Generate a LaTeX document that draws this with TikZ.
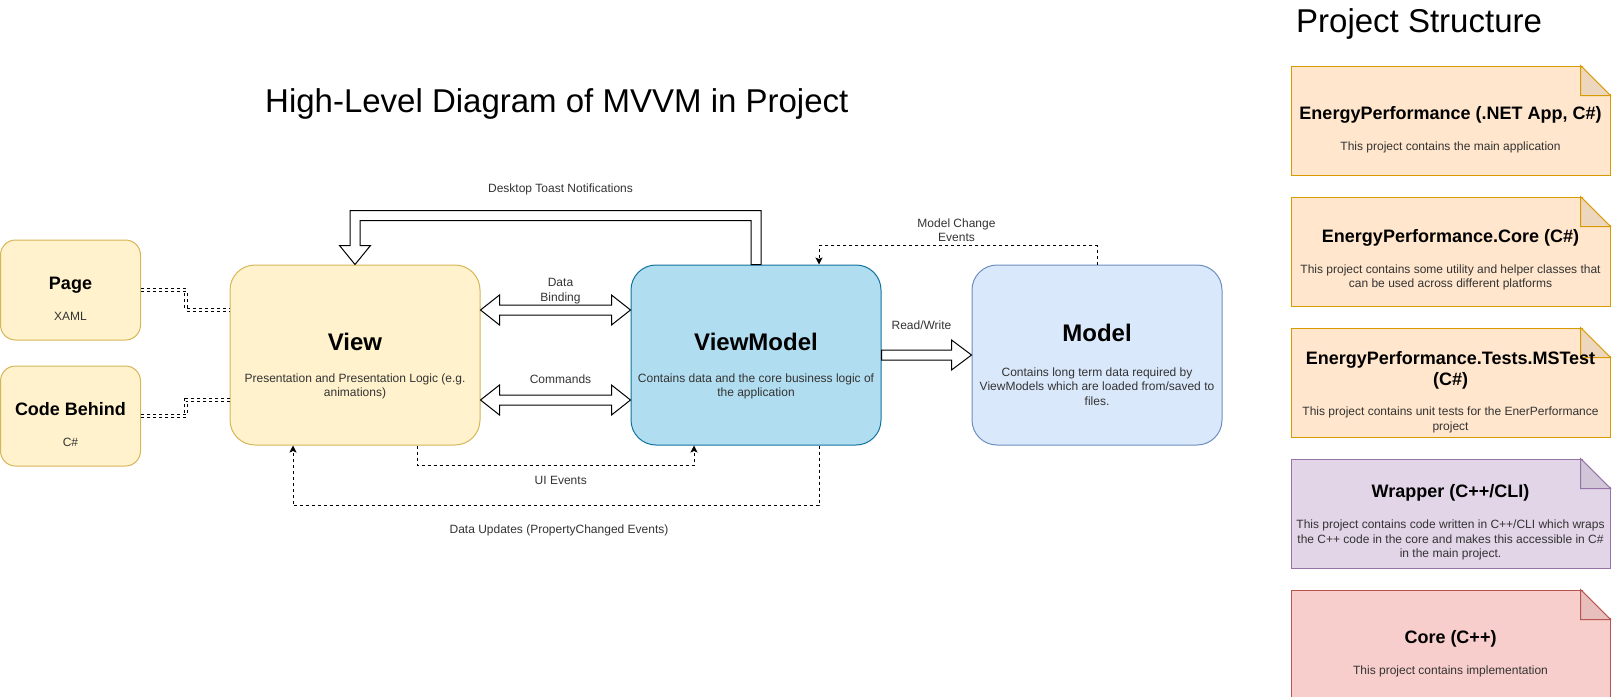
\documentclass[tikz,border=0pt]{standalone}
\usepackage{fontspec}
\setmainfont{Liberation Sans}
\usetikzlibrary{
  arrows.meta,
  positioning,
  calc
}
\definecolor{mvYellow}{HTML}{FFF2CC}
\definecolor{mvYellowLine}{HTML}{D6B656}
\definecolor{mvBlue}{HTML}{B1DDF0}
\definecolor{mvBlueLine}{HTML}{10739E}
\definecolor{mvSky}{HTML}{DAE8FC}
\definecolor{mvSkyLine}{HTML}{6C8EBF}
\definecolor{psOrange}{HTML}{FFE6CC}
\definecolor{psOrangeLine}{HTML}{D79B00}
\definecolor{psPurple}{HTML}{E1D5E7}
\definecolor{psPurpleLine}{HTML}{9673A6}
\definecolor{psRed}{HTML}{F8CECC}
\definecolor{psRedLine}{HTML}{B85450}
\definecolor{mvText}{HTML}{333333}
\tikzset{
  mvbox/.style={
    draw=#1Line, fill=#1, line width=1pt, rounded corners=25pt,
    minimum width=250pt, minimum height=180pt, inner sep=0pt
  },
  srcbox/.style={
    draw=mvYellowLine, fill=mvYellow, line width=1pt, rounded corners=15pt,
    minimum width=140pt, minimum height=100pt, inner sep=0pt
  },
  note/.style={
    draw=#1Line, fill=#1, line width=1pt, minimum width=319pt, minimum height=109pt, inner sep=0pt
  },
  bigtitle/.style={font=\fontsize{33}{40}\selectfont, inner sep=0pt},
  mvhead/.style={font=\fontsize{24}{28}\selectfont\bfseries, inner sep=0pt, text depth=0pt},
  srchead/.style={font=\fontsize{18}{21}\selectfont\bfseries, inner sep=0pt, text depth=0pt, align=center},
  bodytxt/.style={font=\fontsize{12}{14.5}\selectfont, text=mvText, inner sep=0pt, align=center},
  edgetxt/.style={bodytxt},
  hollow/.style={draw=black, fill=white, line width=1pt, line join=miter},
  evt/.style={draw=black, line width=1pt, dash pattern=on 3pt off 3pt, -{Stealth[length=7pt, width=7pt, inset=1.5pt]}},
  link/.style={draw=black, line width=0.8pt, double=white, double distance=2.5pt, dash pattern=on 3pt off 3pt}
}

\begin{document}
\begin{tikzpicture}[x=1pt, y=-1pt]
  \useasboundingbox (0,0) rectangle (1621,696);

  % titles
  \node[bigtitle, anchor=base west] (maintitle) at (265,112) {High-Level Diagram of MVVM in Project};
  \node[bigtitle, anchor=base west] (pstitle) at (1296,32) {Project Structure};

  % MVVM boxes
  \node[srcbox] (page) at (70.5,290) {};
  \node[srcbox, below=25pt of page] (code) {};
  \node[mvbox=mvYellow] (view) at (355,355) {};
  \node[mvbox=mvBlue, right=150pt of view] (vm) {};
  \node[mvbox=mvSky, right=90pt of vm] (model) {};

  \node[srchead] (pagehead) at ($(page.center)+(0,-7)$) {Page};
  \node[bodytxt] (pagetxt) at ($(page.center)+(0,26)$) {XAML};
  \node[srchead] (codehead) at ($(code.center)+(0,-7)$) {Code Behind};
  \node[bodytxt] (codetxt) at ($(code.center)+(0,26)$) {C\#};
  \node[mvhead] (viewhead) at ($(view.center)+(0,-13)$) {View};
  \node[bodytxt] (viewtxt) at ($(view.center)+(0,31.5)$) {Presentation and Presentation Logic (e.g.\\animations)};
  \node[mvhead] (vmhead) at ($(vm.center)+(0,-13)$) {ViewModel};
  \node[bodytxt] (vmtxt) at ($(vm.center)+(0,31.5)$) {Contains data and the core business logic of\\the application};
  \node[mvhead] (modelhead) at ($(model.center)+(0,-22)$) {Model};
  \node[bodytxt] (modeltxt) at ($(model.center)+(0,31.5)$) {Contains long term data required by\\ViewModels which are loaded from/saved to\\files.};

  % project structure
  \node[note=psOrange] (app) at (1450.5,120.5) {};
  \node[note=psOrange, below=21pt of app] (corecs) {};
  \node[note=psOrange, below=21pt of corecs] (tests) {};
  \node[note=psPurple, below=21pt of tests] (wrap) {};
  \node[note=psRed, below=21pt of wrap] (native) {};

  % folded corners
  \foreach \n/\c/\l in {app/psOrange/psOrangeLine, corecs/psOrange/psOrangeLine, tests/psOrange/psOrangeLine,
                        wrap/psPurple/psPurpleLine, native/psRed/psRedLine} {
    \fill[white] ([shift={(-30pt,1.5pt)}]\n.north east) -- ([shift={(1.5pt,1.5pt)}]\n.north east)
      -- ([shift={(1.5pt,-30pt)}]\n.north east) -- cycle;
    \filldraw[fill=\c!93!black, draw=\l, line width=1pt, line join=miter]
      ([xshift=-30pt]\n.north east) -- ([shift={(-30pt,-30pt)}]\n.north east)
      -- ([yshift=-30pt]\n.north east) -- cycle;
  }

  \node[srchead] (apphead) at ($(app.center)+(0,-7.5)$) {EnergyPerformance (.NET App, C\#)};
  \node[bodytxt] (apptxt) at ($(app.center)+(0,26.5)$) {This project contains the main application};
  \node[srchead] (corecshead) at ($(corecs.center)+(0,-15.5)$) {EnergyPerformance.Core (C\#)};
  \node[bodytxt] (corecstxt) at ($(corecs.center)+(0,26)$) {This project contains some utility and helper classes that\\can be used across different platforms};
  \node[srchead] (testshead) at ($(tests.center)+(0,-14.5)$) {EnergyPerformance.Tests.MSTest\\(C\#)};
  \node[bodytxt] (tests txt) at ($(tests.center)+(0,37.5)$) {This project contains unit tests for the EnerPerformance\\project};
  \node[srchead] (wraphead) at ($(wrap.center)+(0,-22.5)$) {Wrapper (C++/CLI)};
  \node[bodytxt] (wraptxt) at ($(wrap.center)+(0,26.5)$) {This project contains code written in C++/CLI which wraps\\the C++ code in the core and makes this accessible in C\#\\in the main project.};
  \node[srchead] (nativehead) at ($(native.center)+(0,-7.5)$) {Core (C++)};
  \node[bodytxt] (nativetxt) at ($(native.center)+(0,26.5)$) {This project contains implementation};

  % code-behind links
  \draw[link] (page.east) -- ++(45,0) |- ($(view.west)+(0,-45)$);
  \draw[link] (code.east) -- ++(45,0) |- ($(view.west)+(0,45)$);

  % hollow arrows
  \coordinate (bindL) at ($(view.east)+(0,-45)$);
  \coordinate (bindR) at ($(vm.west)+(0,-45)$);
  \coordinate (cmdL) at ($(view.east)+(0,45)$);
  \coordinate (cmdR) at ($(vm.west)+(0,45)$);
  \coordinate (toast) at ($(vm.north)+(0,-49)$);
  \coordinate (toastV) at (toast -| view.north);

  \draw[hollow] (bindL) -- ($(bindL)+(19,-15)$) -- ($(bindL)+(19,-5)$) -- ($(bindR)+(-19,-5)$) -- ($(bindR)+(-19,-15)$)
    -- (bindR) -- ($(bindR)+(-19,15)$) -- ($(bindR)+(-19,5)$) -- ($(bindL)+(19,5)$) -- ($(bindL)+(19,15)$) -- cycle;
  \draw[hollow] (cmdL) -- ($(cmdL)+(19,-15)$) -- ($(cmdL)+(19,-5)$) -- ($(cmdR)+(-19,-5)$) -- ($(cmdR)+(-19,-15)$)
    -- (cmdR) -- ($(cmdR)+(-19,15)$) -- ($(cmdR)+(-19,5)$) -- ($(cmdL)+(19,5)$) -- ($(cmdL)+(19,15)$) -- cycle;
  \draw[hollow] ($(vm.east)+(0,-5)$) -- ($(model.west)+(-20,-5)$) -- ($(model.west)+(-20,-15)$) -- (model.west)
    -- ($(model.west)+(-20,15)$) -- ($(model.west)+(-20,5)$) -- ($(vm.east)+(0,5)$) -- cycle;
  \draw[hollow] ($(vm.north)+(-5,0)$) -- ($(toast)+(-5,5)$) -- ($(toastV)+(5,5)$) -- ($(view.north)+(5,-19)$)
    -- ($(view.north)+(15.5,-19)$) -- (view.north) -- ($(view.north)+(-15.5,-19)$) -- ($(view.north)+(-5,-19)$)
    -- ($(toastV)+(-5,-5)$) -- ($(toast)+(5,-5)$) -- ($(vm.north)+(5,0)$) -- cycle;

  \node[edgetxt] (bindtxt) at ($(bindL)!.5!(bindR)+(5,-19)$) {Data\\Binding};
  \node[edgetxt] (cmdtxt) at ($(cmdL)!.5!(cmdR)+(5,-21)$) {Commands};
  \node[edgetxt] (rwtxt) at ($(vm.east)!.5!(model.west)+(-5,-30)$) {Read/Write};
  \node[edgetxt] (toasttxt) at ($(toastV)!.5!(toast)+(5,-26)$) {Desktop Toast Notifications};

  % dashed events
  \draw[evt] ($(view.south)+(62.5,0)$) -- ++(0,20) -| node[edgetxt, pos=.25, xshift=5pt, yshift=-15pt] (uitxt) {UI Events} ($(vm.south)+(-62,0)$);
  \draw[evt] ($(vm.south)+(63,0)$) -- ++(0,60) -| node[edgetxt, pos=.25, xshift=3pt, yshift=-25pt] (updtxt) {Data Updates (PropertyChanged Events)} ($(view.south)+(-62,0)$);
  \draw[evt] (model.north) -- ++(0,-19) -| node[edgetxt, pos=.25, xshift=-1.5pt, yshift=15.5pt] (mchtxt) {Model Change\\Events} ($(vm.north)+(63,0)$);
\end{tikzpicture}
\end{document}
